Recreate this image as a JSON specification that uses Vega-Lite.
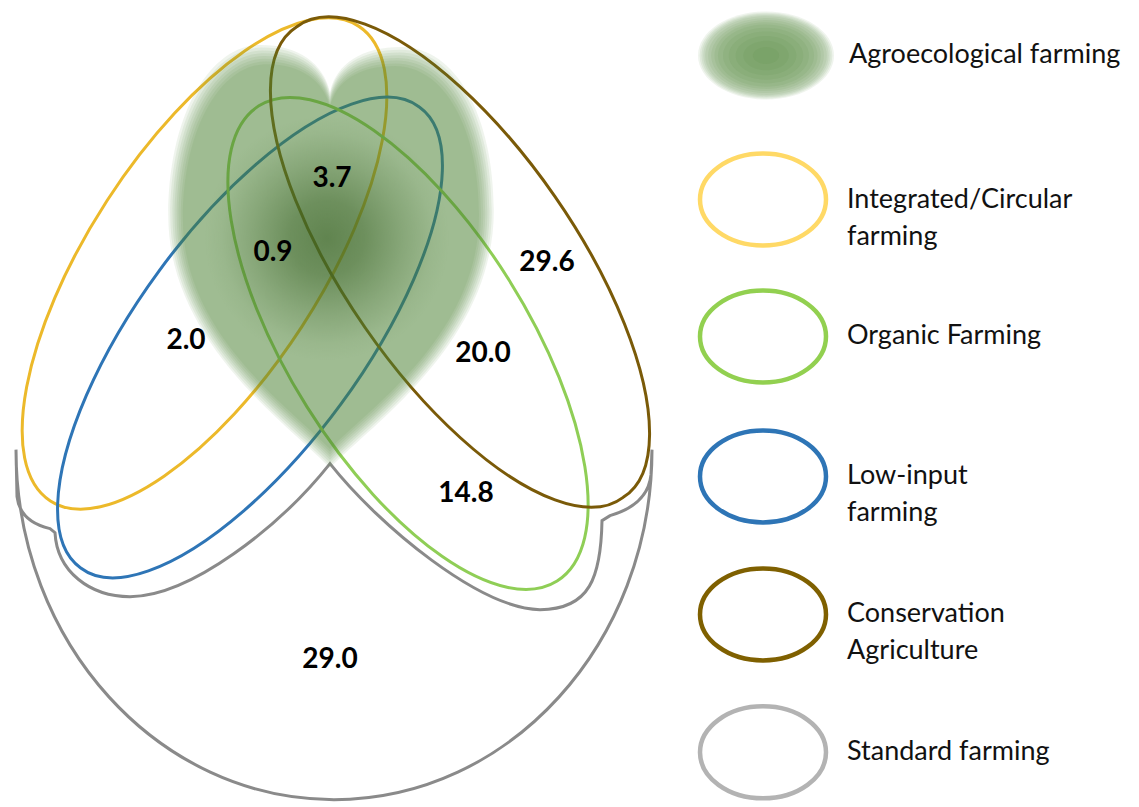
{
  "$schema": "https://vega.github.io/schema/vega-lite/v6.json",
  "width": 1139,
  "height": 807,
  "autosize": {"type": "fit", "contains": "padding"},
  "padding": 0,
  "background": "white",
  "config": {"view": {"stroke": null}},
  "datasets": {
    "sets": [
      {"set": "Standard farming", "x": 334, "y": 453},
      {"set": "Integrated/Circular farming", "x": 204.5, "y": 265.5},
      {"set": "Low-input farming", "x": 250, "y": 340},
      {"set": "Organic Farming", "x": 408, "y": 346},
      {"set": "Conservation Agriculture", "x": 460, "y": 264}
    ],
    "agro": [
      {"level": 1, "x": 330, "y": 260},
      {"level": 2, "x": 330, "y": 260},
      {"level": 3, "x": 330, "y": 260},
      {"level": 4, "x": 330, "y": 260},
      {"level": 5, "x": 330, "y": 260},
      {"level": 6, "x": 330, "y": 260},
      {"level": 7, "x": 330, "y": 260},
      {"level": 8, "x": 330, "y": 260}
    ],
    "agroCore": [
      {"part": "core", "x": 327, "y": 240}
    ],
    "agroKey": [
      {"level": 1, "x": 766, "y": 56},
      {"level": 2, "x": 766, "y": 56},
      {"level": 3, "x": 766, "y": 56},
      {"level": 4, "x": 766, "y": 56},
      {"level": 5, "x": 766, "y": 56},
      {"level": 6, "x": 766, "y": 56},
      {"level": 7, "x": 766, "y": 56},
      {"level": 8, "x": 766, "y": 56},
      {"level": 9, "x": 766, "y": 56},
      {"level": 10, "x": 766, "y": 56},
      {"level": 11, "x": 766, "y": 56},
      {"level": 12, "x": 766, "y": 56},
      {"level": 13, "x": 766, "y": 56},
      {"level": 14, "x": 766, "y": 56}
    ],
    "regions": [
      {"value": 3.7, "x": 332, "y": 180},
      {"value": 0.9, "x": 273, "y": 255},
      {"value": 29.6, "x": 547, "y": 265},
      {"value": 2.0, "x": 186, "y": 344},
      {"value": 20.0, "x": 483, "y": 357},
      {"value": 14.8, "x": 466, "y": 498},
      {"value": 29.0, "x": 330, "y": 665}
    ],
    "legend": [
      {"set": "Agroecological farming", "label": "Agroecological farming", "x": 765, "y": 55},
      {"set": "Integrated/Circular farming", "label": "Integrated/Circular\nfarming", "x": 763, "y": 201},
      {"set": "Organic Farming", "label": "Organic Farming", "x": 763, "y": 339},
      {"set": "Low-input farming", "label": "Low-input\nfarming", "x": 763, "y": 480},
      {"set": "Conservation Agriculture", "label": "Conservation\nAgriculture", "x": 763, "y": 619},
      {"set": "Standard farming", "label": "Standard farming", "x": 763, "y": 758}
    ]
  },
  "encoding": {
    "x": {"field": "x", "type": "quantitative", "scale": {"domain": [0, 1139], "nice": false, "zero": false}, "axis": null},
    "y": {"field": "y", "type": "quantitative", "scale": {"domain": [0, 807], "nice": false, "zero": false, "reverse": true}, "axis": null}
  },
  "layer": [
    {
      "data": {"name": "sets"},
      "mark": {"type": "point", "filled": false, "size": 4, "strokeWidth": 3, "opacity": 1},
      "encoding": {
        "shape": {
          "field": "set", "type": "nominal", "legend": null,
          "scale": {
            "domain": ["Standard farming", "Integrated/Circular farming", "Low-input farming", "Organic Farming", "Conservation Agriculture"],
            "range": [
              "M-318,0A318,350,0,0,0,318,0M318,0L317,25Q314,55,276,66L268,71C267,127,256,160,206,160C146,159,46,77,-4,14C-54,77,-144,147,-204,147C-244,147,-277,122,-279,83L-284,79Q-314,72,-317,47L-318,0",
              "M154.1,-237.4A283,116,-57,1,1,-154.1,237.4A283,116,-57,1,1,154.1,-237.4Z",
              "M169.3,-230.5A286,112,-53.7,1,1,-169.3,230.5A286,112,-53.7,1,1,169.3,-230.5Z",
              "M149.1,237.6A280.5,119.3,57.9,1,1,-149.1,-237.6A280.5,119.3,57.9,1,1,149.1,237.6Z",
              "M163.2,235.3A286.4,113.4,55.25,1,1,-163.2,-235.3A286.4,113.4,55.25,1,1,163.2,235.3Z"
            ]
          }
        },
        "stroke": {
          "field": "set", "type": "nominal", "legend": null,
          "scale": {
            "domain": ["Standard farming", "Integrated/Circular farming", "Low-input farming", "Organic Farming", "Conservation Agriculture"],
            "range": ["#8a8a8a", "#ecb92a", "#2e75b6", "#8fce56", "#7a5a08"]
          }
        }
      }
    },
    {
      "data": {"name": "agro"},
      "mark": {
        "type": "point", "filled": true, "fill": "#4f8237", "opacity": 0.09, "strokeWidth": 0,
        "shape": "M0,200C-40,158,-154,80,-154,-40C-154,-135,-115,-203,-66,-203C-30,-203,-6,-185,0,-158C6,-185,30,-201,68,-201C120,-201,156,-135,156,-45C156,80,40,158,0,200Z"
      },
      "encoding": {
        "size": {
          "field": "level", "type": "ordinal", "legend": null,
          "scale": {"type": "ordinal", "domain": [1, 2, 3, 4, 5, 6, 7, 8], "range": [4.41, 4.3, 4.18, 4.07, 3.96, 3.86, 3.75, 3.65]}
        }
      }
    },
    {
      "data": {"name": "agroCore"},
      "mark": {
        "type": "point", "filled": true, "size": 4, "strokeWidth": 0, "opacity": 1,
        "shape": "M-125,0A125,170,0,1,1,125,0A125,170,0,1,1,-125,0Z",
        "fill": {"gradient": "radial", "x1": 0.5, "y1": 0.5, "r1": 0, "x2": 0.5, "y2": 0.5, "r2": 0.5,
          "stops": [
            {"offset": 0, "color": "rgba(55,95,35,0.6)"},
            {"offset": 0.22, "color": "rgba(55,95,35,0.48)"},
            {"offset": 0.45, "color": "rgba(55,95,35,0.22)"},
            {"offset": 0.62, "color": "rgba(55,95,35,0.05)"},
            {"offset": 0.72, "color": "rgba(55,95,35,0)"},
            {"offset": 1, "color": "rgba(55,95,35,0)"}
          ]}
      }
    },
    {
      "data": {"name": "regions"},
      "mark": {"type": "text", "font": "Lato", "fontWeight": "bold", "fontSize": 28, "color": "#000000", "align": "center", "baseline": "middle"},
      "encoding": {
        "text": {"field": "value", "type": "quantitative", "format": ".1f"}
      }
    },
    {
      "data": {"name": "legend"},
      "transform": [{"filter": "datum.set !== 'Agroecological farming'"}],
      "mark": {"type": "point", "filled": false, "size": 4, "strokeWidth": 4.5, "opacity": 1,
        "shape": "M-63,0A63,46,0,1,1,63,0A63,46,0,1,1,-63,0Z"},
      "encoding": {
        "stroke": {
          "field": "set", "type": "nominal", "legend": null,
          "scale": {
            "domain": ["Standard farming", "Integrated/Circular farming", "Low-input farming", "Organic Farming", "Conservation Agriculture"],
            "range": ["#b3b3b3", "#ffd966", "#2e75b6", "#92d050", "#7f6000"]
          }
        }
      }
    },
    {
      "data": {"name": "agroKey"},
      "mark": {"type": "point", "filled": true, "fill": "#4f8237", "strokeWidth": 0, "opacity": 0.09,
        "shape": "M-68,0A68,44,0,1,1,68,0A68,44,0,1,1,-68,0Z"},
      "encoding": {
        "size": {
          "field": "level", "type": "ordinal", "legend": null,
          "scale": {"type": "ordinal", "domain": [1, 2, 3, 4, 5, 6, 7, 8, 9, 10, 11, 12, 13, 14], "range": [4, 3.8, 3.6, 3.4, 3.2, 2.9, 2.6, 2.3, 2.0, 1.6, 1.2, 0.8, 0.45, 0.15]}
        }
      }
    },
    {
      "data": {"name": "legend"},
      "mark": {"type": "text", "font": "Lato", "fontSize": 27, "color": "#111111", "align": "left", "baseline": "middle", "dx": 84, "lineBreak": "\n", "lineHeight": 37},
      "encoding": {
        "text": {"field": "label", "type": "nominal"}
      }
    }
  ],
  "resolve": {"scale": {"stroke": "independent", "size": "independent"}}
}
